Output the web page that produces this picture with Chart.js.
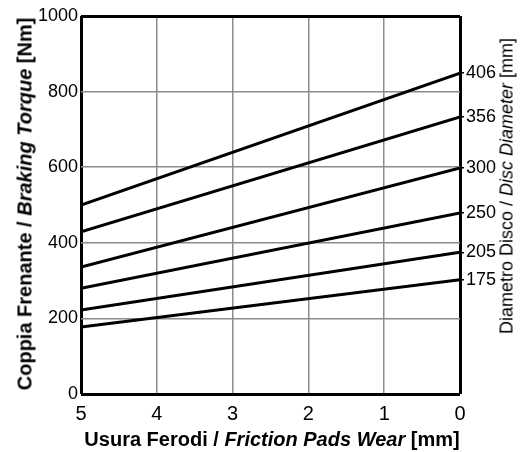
<!DOCTYPE html>
<html>
<head>
  <style>
    body { margin: 0; background: #fff; }
    #wrap { position: relative; width: 529px; height: 452px; }
    .ttl {
      position: absolute;
      font-family: "Liberation Sans", Arial, sans-serif;
      white-space: nowrap;
      color: #000;
      transform: translate(-50%, -50%);
    }
    #ytitle { left: 25px; top: 204px; font-weight: bold; font-size: 20px; transform: translate(-50%, -50%) rotate(-90deg); }
    #xtitle { left: 272px; top: 439px; font-weight: bold; font-size: 20px; }
    #rtitle { left: 507px; top: 186px; font-size: 18px; transform: translate(-50%, -50%) rotate(-90deg); }
  </style>
  <script src="https://cdn.jsdelivr.net/npm/chart.js"></script>
</head>
<body>
  <div id="wrap">
    <canvas id="chart" width="529" height="452"></canvas>
    <div class="ttl" id="ytitle">Coppia Frenante / <i>Braking Torque</i> [Nm]</div>
    <div class="ttl" id="xtitle">Usura Ferodi / <i>Friction Pads Wear</i> [mm]</div>
    <div class="ttl" id="rtitle">Diametro Disco / <i>Disc Diameter</i> [mm]</div>
  </div>

  <script>
    // disc diameters [mm] and torque at wear 5 mm and 0 mm
    const diameters = ['406', '356', '300', '250', '205', '175'];
    const torqueWorn = [500, 429, 336, 280, 222, 177];   // at 5 mm wear
    const torqueNew = [849, 733, 598, 479, 375, 302];    // at 0 mm wear
    const wearStart = 5;
    const wearEnd = 0;

    const datasets = diameters.map((d, i) => ({
      label: d,
      data: [{ x: wearStart, y: torqueWorn[i] }, { x: wearEnd, y: torqueNew[i] }],
      borderColor: '#000',
      borderWidth: 3,
      pointRadius: 0,
      fill: false,
    }));

    const family = '"Liberation Sans", Arial, sans-serif';

    new Chart(document.getElementById('chart'), {
      type: 'line',
      data: { datasets: datasets },
      options: {
        responsive: false,
        animation: false,
        layout: { padding: { top: 16, left: 0, right: 0, bottom: 0 } },
        plugins: { legend: { display: false }, tooltip: { enabled: false } },
        scales: {
          x: {
            type: 'linear',
            reverse: true,
            min: 0,
            max: 5,
            ticks: { stepSize: 1, color: '#000', font: { family: family, size: 20 }, padding: 8 },
            grid: {
              drawTicks: false,
              color: (c) => (c.tick && (c.tick.value === 0 || c.tick.value === 5)) ? '#000' : '#8c8c8c',
              lineWidth: (c) => (c.tick && (c.tick.value === 0 || c.tick.value === 5)) ? 3 : 1.5,
            },
            border: { display: false },
            afterFit: (s) => { s.height = 58; },
          },
          y: {
            min: 0,
            max: 1000,
            ticks: {
              stepSize: 200,
              color: '#000',
              font: { family: family, size: 18 },
              padding: 3,
              callback: (v) => String(v),
            },
            grid: {
              drawTicks: false,
              color: (c) => (c.tick && (c.tick.value === 0 || c.tick.value === 1000)) ? '#000' : '#8c8c8c',
              lineWidth: (c) => (c.tick && (c.tick.value === 0 || c.tick.value === 1000)) ? 3 : 1.5,
            },
            border: { display: false },
            afterFit: (s) => { s.width = 81; },
          },
          y2: {
            position: 'right',
            min: 0,
            max: 1000,
            afterBuildTicks: (s) => { s.ticks = torqueNew.map(v => ({ value: v })); },
            ticks: {
              color: '#000',
              font: { family: family, size: 18 },
              padding: 2,
              callback: (v, i) => diameters[i],
            },
            grid: { drawOnChartArea: false, tickLength: 4, color: '#000', lineWidth: 1.5 },
            border: { display: false },
            afterFit: (s) => { s.width = 69; },
          },
        },
      },
    });
  </script>
</body>
</html>
